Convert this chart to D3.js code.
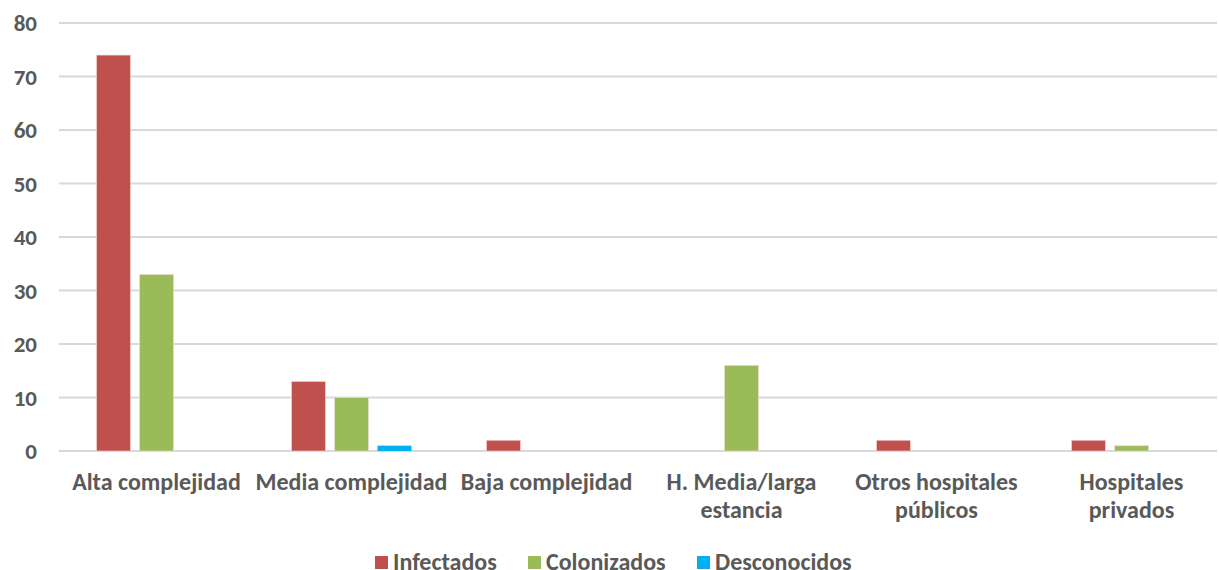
<!DOCTYPE html>
<html>
<head>
<meta charset="utf-8">
<script src="https://cdn.jsdelivr.net/npm/d3@7"></script>
<style>
	body { margin: 0; background: #fff; }
	svg text { font-family: Carlito, Calibri, "Open Sans", sans-serif; font-weight: bold; fill: #595959; }
</style>
</head>
<body>
<div id="chart"></div>
<script>
	// categories (lines for wrapped labels)
	let categories = [
		['Alta complejidad'],
		['Media complejidad'],
		['Baja complejidad'],
		['H. Media/larga', 'estancia'],
		['Otros hospitales', 'públicos'],
		['Hospitales', 'privados']
	];
	let infectados = [74, 13, 2, 0, 2, 2];
	let colonizados = [33, 10, 0, 16, 0, 1];
	let desconocidos = [0, 1, 0, 0, 0, 0];
	let seriesNames = ['Infectados', 'Colonizados', 'Desconocidos'];
	let seriesColors = ['#C0504D', '#9BBB59', '#00B0F0'];
	let yTicks = [0, 10, 20, 30, 40, 50, 60, 70, 80];

	var width = 1219, height = 570;
	var margin = { left: 59, right: 2, top: 23, bottom: 119 };
	var bandStep = 195; // the original plot runs a bit past the right edge

	var svg = d3.select('#chart').append('svg')
		.attr('width', width)
		.attr('height', height);

	var x = d3.scaleBand()
		.domain(d3.range(categories.length))
		.range([margin.left, margin.left + bandStep * categories.length]);

	var xInner = d3.scaleBand()
		.domain(d3.range(seriesNames.length))
		.range([0, x.bandwidth()])
		.paddingInner(0.209)
		.paddingOuter(0.872);

	var y = d3.scaleLinear()
		.domain([0, 80])
		.range([height - margin.bottom, margin.top]);

	// gridlines
	svg.append('g')
		.selectAll('line')
		.data(yTicks)
		.enter()
		.append('line')
		.attr('x1', margin.left)
		.attr('x2', width - margin.right)
		.attr('y1', d => y(d))
		.attr('y2', d => y(d))
		.style('stroke', '#d9d9d9')
		.style('stroke-width', 2);

	// y labels
	svg.append('g')
		.selectAll('text')
		.data(yTicks)
		.enter()
		.append('text')
		.attr('x', 37)
		.attr('y', d => y(d))
		.attr('dy', '0.35em')
		.attr('text-anchor', 'end')
		.style('font-size', '23px')
		.text(d => d);

	// bars, one group per series
	let allSeries = [infectados, colonizados, desconocidos];
	allSeries.forEach(function(values, s) {
		var data = values.map((v, i) => ({ i: i, v: v })).filter(d => d.v > 0);
		svg.append('g')
			.selectAll('rect')
			.data(data)
			.enter()
			.append('rect')
			.attr('x', d => x(d.i) + xInner(s))
			.attr('width', xInner.bandwidth())
			.attr('y', d => y(d.v))
			.attr('height', d => y(0) - y(d.v))
			.style('fill', seriesColors[s])
			.style('stroke', s == 2 ? 'none' : '#f2dcdb')
			.style('stroke-opacity', 0.6)
			.style('stroke-width', 1);
	});

	// category labels
	var xl = svg.append('g')
		.selectAll('text')
		.data(categories)
		.enter()
		.append('text')
		.attr('text-anchor', 'middle')
		.attr('x', (d, i) => x(i) + x.bandwidth() / 2)
		.attr('y', 490)
		.style('font-size', '24px');
	xl.selectAll('tspan')
		.data(d => d)
		.enter()
		.append('tspan')
		.attr('x', function() { return d3.select(this.parentNode).attr('x'); })
		.attr('dy', (d, i) => i == 0 ? 0 : 28)
		.text(d => d);

	// legend
	let legendX = [375, 528, 697];
	var lg = svg.append('g');
	seriesNames.forEach(function(name, s) {
		lg.append('rect')
			.attr('x', legendX[s])
			.attr('y', 556)
			.attr('width', 13)
			.attr('height', 13)
			.style('fill', seriesColors[s]);
		lg.append('text')
			.attr('x', legendX[s] + 18)
			.attr('y', 570)
			.style('font-size', '24px')
			.text(name);
	});
</script>
</body>
</html>
